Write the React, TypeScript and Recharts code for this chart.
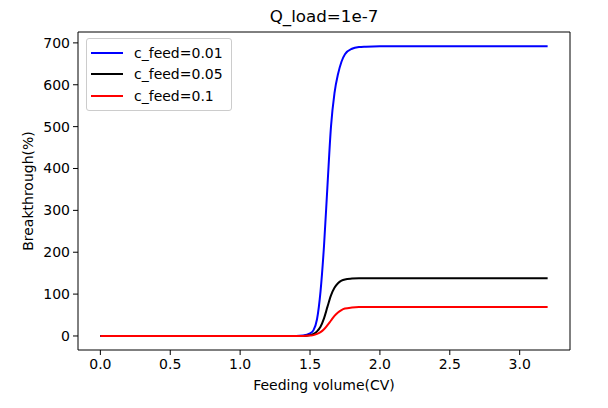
import React from 'react';
import { LineChart, Line, XAxis, YAxis, Legend, ReferenceLine } from 'recharts';

const xValues = [0, 0.5, 1.0, 1.4, 1.45, 1.5, 1.525, 1.55, 1.575, 1.6, 1.625, 1.65, 1.675, 1.7, 1.725, 1.75, 1.8, 1.85, 1.9, 2.0, 2.5, 3.0, 3.2];
const feed001 = [0, 0, 0, 0, 1, 6, 14, 40, 106, 215, 360, 500, 580, 625, 655, 673, 686, 690, 691, 692, 692, 692, 692];
const feed005 = [0, 0, 0, 0, 0, 2, 5, 11, 22, 42, 70, 97, 115, 126, 132, 135, 137, 138, 138, 138, 138, 138, 138];
const feed01 = [0, 0, 0, 0, 0, 1, 2, 5, 9, 16, 26, 37, 48, 56, 62, 65.5, 68, 69, 69, 69, 69, 69, 69];

const xTicks = [0, 0.5, 1.0, 1.5, 2.0, 2.5, 3.0];
const yTicks = [0, 100, 200, 300, 400, 500, 600, 700];
const xDomain = [-0.16, 3.36];
const yDomain = [-33.5, 726];

const series = [
  { key: 'a', name: 'c_feed=0.01', values: feed001, color: '#0000ff' },
  { key: 'b', name: 'c_feed=0.05', values: feed005, color: '#000000' },
  { key: 'c', name: 'c_feed=0.1', values: feed01, color: '#ff0000' },
];

const data = xValues.map((x, i) => {
  const row: Record<string, number> = { x };
  series.forEach((s) => {
    row[s.key] = s.values[i];
  });
  return row;
});

const FONT = 'DejaVu Sans';

const LegendBox = () => (
  <div
    style={{
      width: 146,
      boxSizing: 'border-box',
      border: '1px solid #cccccc',
      borderRadius: 3,
      background: 'rgba(255,255,255,0.8)',
      padding: '3px 0 3px 4px',
      fontFamily: FONT,
      fontSize: 14,
      color: '#000',
    }}
  >
    {series.map((s) => (
      <div key={s.key} style={{ display: 'flex', alignItems: 'center', height: 21.6 }}>
        <svg width={32} height={4} style={{ marginRight: 11 }}>
          <line x1={0} y1={2} x2={32} y2={2} stroke={s.color} strokeWidth={2} />
        </svg>
        <span style={{ whiteSpace: 'nowrap' }}>{s.name}</span>
      </div>
    ))}
  </div>
);

const YLabel = (props: any) => {
  const vb = props.viewBox || { x: 0, y: 0, width: 0, height: 0 };
  const cx = 33;
  const cy = vb.y + vb.height / 2;
  return (
    <text
      x={cx}
      y={cy}
      textAnchor="middle"
      transform={`rotate(-90 ${cx} ${cy})`}
      fontSize={14}
      fill="#000"
      fontFamily={FONT}
    >
      Breakthrough(%)
    </text>
  );
};

export default function App() {
  return (
    <div style={{ position: 'absolute', left: 0, top: 0, fontFamily: FONT, background: '#fff' }}>
      <LineChart
        width={608}
        height={408}
        data={data}
        margin={{ top: 32, right: 38, bottom: 18, left: 0 }}
      >
        <XAxis
          dataKey="x"
          type="number"
          domain={xDomain}
          ticks={xTicks}
          tickFormatter={(v: number) => v.toFixed(1)}
          allowDataOverflow
          height={40}
          tickSize={5}
          tickMargin={4}
          stroke="#000"
          tick={{ fill: '#000', fontSize: 14, fontFamily: FONT }}
          label={{ value: 'Feeding volume(CV)', position: 'insideBottom', offset: 0, fill: '#000', fontSize: 14, fontFamily: FONT }}
        />
        <YAxis
          type="number"
          domain={yDomain}
          ticks={yTicks}
          allowDataOverflow
          width={78}
          tickSize={5}
          tickMargin={3}
          stroke="#000"
          tick={{ fill: '#000', fontSize: 14, fontFamily: FONT }}
          label={{ content: YLabel } as any}
        />
        <ReferenceLine x={xDomain[1]} stroke="#000" strokeWidth={1} ifOverflow="extendDomain" />
        <ReferenceLine
          y={yDomain[1]}
          stroke="#000"
          strokeWidth={1}
          ifOverflow="extendDomain"
          label={{ value: 'Q_load=1e-7', position: 'top', offset: 10, fill: '#000', fontSize: 16.7, fontFamily: FONT }}
        />
        <Legend
          layout="vertical"
          align="center"
          verticalAlign="middle"
          content={() => <LegendBox />}
          wrapperStyle={{ left: 86, top: 38, width: 'auto', height: 'auto' }}
        />
        {series.map((s) => (
          <Line
            key={s.key}
            dataKey={s.key}
            name={s.name}
            type="monotone"
            stroke={s.color}
            strokeWidth={2}
            dot={false}
            activeDot={false}
            isAnimationActive={false}
          />
        ))}
      </LineChart>
    </div>
  );
}
